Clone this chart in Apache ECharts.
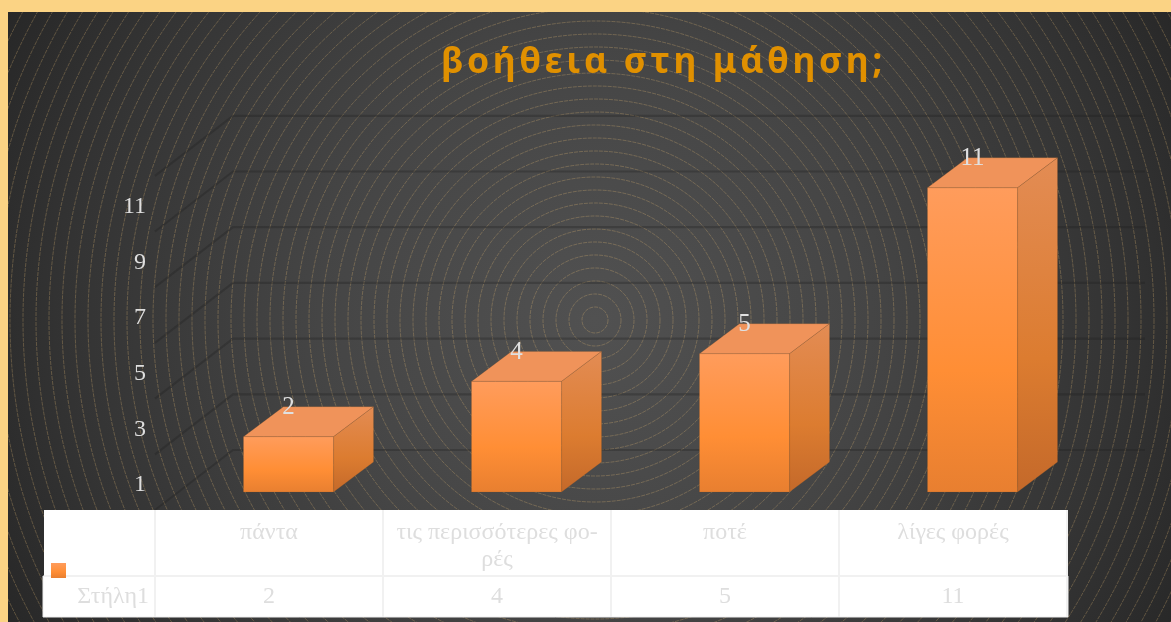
<!DOCTYPE html>
<html><head><meta charset="utf-8">
<style>html,body{margin:0;padding:0;background:#FBD384}#c{width:1171px;height:622px}</style>
<script src="https://cdn.jsdelivr.net/npm/echarts@6/dist/echarts.min.js"></script>
</head><body><div id="c"></div>
<script>
const titleText = 'βοήθεια στη μάθηση;';
const categories = ['πάντα', 'τις περισσότερες φο-\nρές', 'ποτέ', 'λίγες φορές'];
const seriesName = 'Στήλη1';
const values = [2, 4, 5, 11];
const yTickLabels = [1, 3, 5, 7, 9, 11];
const gridValues = [0, 2, 4, 6, 8, 10, 12];

const SERIF = '"Liberation Serif", serif';
const chart = echarts.init(document.getElementById('c'));

// backdrop: radial shading with dashed concentric rings
const backdrop = [{
  type: 'rect', z: -10, silent: true,
  shape: { x: 0, y: 0, width: 1171, height: 622 },
  style: { fill: { type: 'radial', x: 595, y: 320, r: 690, global: true,
    colorStops: [{ offset: 0, color: '#515151' }, { offset: 0.4, color: '#454545' }, { offset: 0.75, color: '#343434' }, { offset: 1, color: '#252525' }] } }
}];
for (let k = 1; k <= 56; k++) {
  backdrop.push({ type: 'circle', z: -9, silent: true,
    shape: { cx: 595, cy: 320, r: 13 * k },
    style: { fill: null, stroke: 'rgba(214,176,110,0.42)', lineWidth: 0.75, lineDash: [4, 1] } });
}
// peach frame over the ring ends
const frame = [
  { type: 'rect', z: 300, silent: true, shape: { x: 0, y: 0, width: 1171, height: 12 }, style: { fill: '#FBD384' } },
  { type: 'rect', z: 300, silent: true, shape: { x: 0, y: 0, width: 8, height: 622 }, style: { fill: '#FBD384' } }
];
// data table underneath the plot
const colX = [155, 383, 611, 839, 1067];
const lineColor = '#f1f1f1';
const tableText = { fill: '#dedede', font: '24px ' + SERIF, align: 'center', verticalAlign: 'middle' };
const table = [
  { type: 'rect', z: 100, silent: true, shape: { x: 44, y: 510, width: 1024, height: 66 }, style: { fill: '#fff' } },
  { type: 'rect', z: 100, silent: true, shape: { x: 43, y: 576, width: 1025, height: 41 }, style: { fill: '#fff', stroke: '#eeeeee', lineWidth: 1 } },
  { type: 'line', z: 101, silent: true, shape: { x1: 44, y1: 576, x2: 1067, y2: 576 }, style: { stroke: lineColor, lineWidth: 2 } },
  { type: 'rect', z: 102, silent: true, shape: { x: 51, y: 563, width: 15, height: 15 },
    style: { fill: { type: 'linear', x: 0, y: 0, x2: 0, y2: 1, colorStops: [{ offset: 0, color: '#ff9c5c' }, { offset: 0.6, color: '#ff8e35' }, { offset: 1, color: '#e87f30' }] } } },
  { type: 'text', z: 102, silent: true, x: 149, y: 597, style: Object.assign({}, tableText, { text: seriesName, align: 'right' }) }
];
colX.forEach(x => table.push({ type: 'line', z: 101, silent: true, shape: { x1: x, y1: 510, x2: x, y2: 617 }, style: { stroke: lineColor, lineWidth: 2 } }));
categories.forEach((c, i) => {
  const cx = (colX[i] + colX[i + 1]) / 2;
  table.push({ type: 'text', z: 102, silent: true, x: cx, y: 519, style: Object.assign({}, tableText, { text: c, lineHeight: 27, verticalAlign: 'top' }) });
  table.push({ type: 'text', z: 102, silent: true, x: cx, y: 597, style: Object.assign({}, tableText, { text: String(values[i]) }) });
});

function wallItem(params, api) {
  const p = api.coord([0, api.value(0)]);
  const x0 = 155, x1 = 233, x2 = 1145, y = p[1] - 3, yb = y - 60;
  return { type: 'polyline', silent: true,
    shape: { points: [[x0, y], [x1, yb], [x2, yb]] },
    style: { fill: null, stroke: 'rgba(30,30,30,0.3)', lineWidth: 2.2 } };
}
function barItem(params, api) {
  const i = api.value(0), v = api.value(1);
  const c = api.coord([i, v]), b = api.coord([i, 0]);
  const w = api.size([1, 0])[0] * 0.395, dx = 40, dy = -30;
  const cx = c[0] + 19.5, by = b[1] - 21, ty = by - (b[1] - c[1]) * 0.993;
  const l = cx - w / 2, r = cx + w / 2;
  const edge = 'rgba(130,80,40,0.35)';
  const grad = (a, m, z) => ({ type: 'linear', x: 0, y: 0, x2: 0, y2: 1, colorStops: [{ offset: 0, color: a }, { offset: 0.6, color: m }, { offset: 1, color: z }] });
  return { type: 'group', children: [
    { type: 'polygon', shape: { points: [[l, ty], [l + dx, ty + dy], [r + dx, ty + dy], [r, ty]] }, style: { fill: '#f0935a', stroke: edge, lineWidth: 0.6 } },
    { type: 'polygon', shape: { points: [[r, ty], [r + dx, ty + dy], [r + dx, by + dy], [r, by]] }, style: { fill: grad('#e38c54', '#dc7c30', '#c4692a'), stroke: edge, lineWidth: 0.6 } },
    { type: 'rect', shape: { x: l, y: ty, width: w, height: by - ty }, style: { fill: grad('#ff9c5c', '#ff8e35', '#e87f30'), stroke: edge, lineWidth: 0.6 } },
    { type: 'text', x: cx, y: ty - 29, style: { text: String(v), fill: '#e0e0e0', font: '25px ' + SERIF, align: 'center', verticalAlign: 'middle' } }
  ] };
}

chart.setOption({
  animation: false,
  backgroundColor: 'transparent',
  title: { text: titleText.split('').join('\u200a'), left: 441, top: 45, padding: 0,
    textStyle: { color: '#E09000', fontFamily: '"Noto Sans"', fontWeight: 'bold', fontSize: 35.6 } },
  grid: { left: 155, width: 912, top: 178.8, bottom: 109 },
  xAxis: { type: 'category', data: categories, axisLine: { show: false }, axisTick: { show: false }, axisLabel: { show: false } },
  yAxis: { type: 'value', min: 0, max: 12, interval: 2, axisLine: { show: false }, axisTick: { show: false }, splitLine: { show: false },
    axisLabel: { customValues: yTickLabels, margin: 9, color: '#dedede', fontFamily: SERIF, fontSize: 24 } },
  graphic: { elements: backdrop.concat(table, frame) },
  series: [
    { type: 'custom', name: 'grid', z: 1, silent: true, data: gridValues.map(v => [v]), encode: { y: 0 }, renderItem: wallItem },
    { type: 'custom', name: seriesName, z: 3, data: values.map((v, i) => [i, v]), encode: { x: 0, y: 1 }, renderItem: barItem }
  ]
});
</script></body></html>
